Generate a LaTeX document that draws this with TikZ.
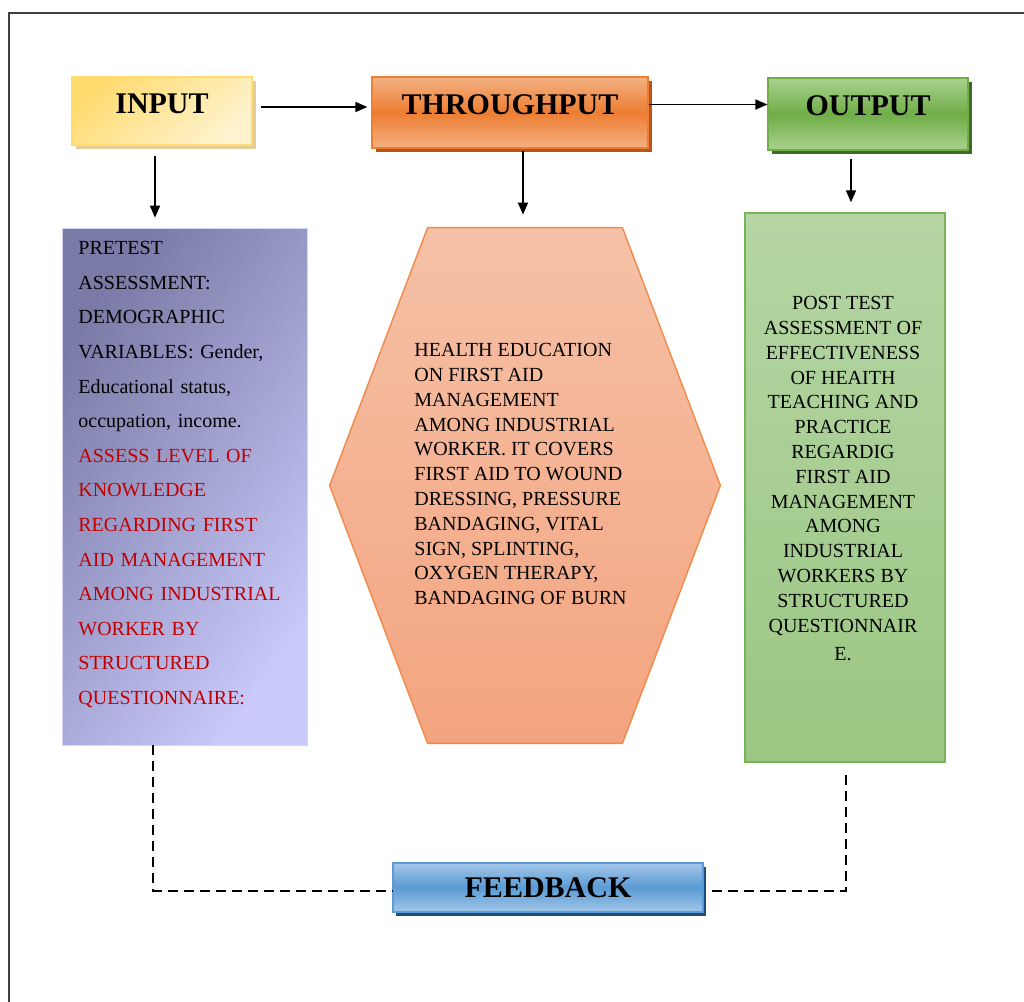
\documentclass[tikz,border=0pt]{standalone}
\usepackage{fontspec}
\setmainfont{Liberation Serif}
\usetikzlibrary{positioning,shadows,arrows.meta}

\definecolor{inlight}{HTML}{FFF3CF}
\definecolor{indark}{HTML}{FFDB70}
\definecolor{thlight}{HTML}{F4B183}
\definecolor{thdark}{HTML}{ED7D31}
\definecolor{thshadow}{HTML}{B8531A}
\definecolor{outlight}{HTML}{A9D18E}
\definecolor{outdark}{HTML}{70AD47}
\definecolor{outshadow}{HTML}{3F6B28}
\definecolor{fblight}{HTML}{A2C6E8}
\definecolor{fbdark}{HTML}{5B9BD5}
\definecolor{fbshadow}{HTML}{1F4E79}
\definecolor{slatedark}{HTML}{7A7AA6}
\definecolor{slatelight}{HTML}{C9C9FA}
\definecolor{hextop}{HTML}{F5C1A7}
\definecolor{hexbottom}{HTML}{F4A47F}
\definecolor{hexline}{HTML}{EF8A4A}
\definecolor{greentop}{HTML}{B5D6A4}
\definecolor{greenbottom}{HTML}{9BC683}
\definecolor{greenline}{HTML}{77B458}
\definecolor{assessred}{HTML}{C00000}

\tikzset{
  head/.style={draw, line width=0.6pt, inner sep=0pt,
    font=\fontsize{15}{18}\selectfont\bfseries},
  body/.style={inner sep=0pt, font=\fontsize{10}{12.4}\selectfont},
  flow/.style={-{Triangle[length=6pt,width=5pt]}, line width=0.8pt},
  fbline/.style={dash pattern=on 5pt off 3pt, line width=1pt},
}

\begin{document}
\begin{tikzpicture}[x=0.5pt, y=-0.5pt]
\useasboundingbox (0,0) rectangle (1024,1002);

% page frame
\draw[line width=1.2pt, black!75] (9,1002) -- (9,13) -- (1024,13);

% heading boxes
\node[head, text depth=7pt, draw=indark, minimum width=90pt, minimum height=34pt,
  left color=indark, right color=inlight, shading angle=40,
  drop shadow={shadow xshift=2pt, shadow yshift=-2pt, fill=black!20!indark!60, opacity=1}]
  (input) at (162,111) {INPUT};
\node[head, text depth=8pt, draw=thdark, minimum width=138pt, minimum height=35.5pt,
  top color=thlight, bottom color=thlight, middle color=thdark,
  drop shadow={shadow xshift=2pt, shadow yshift=-2pt, fill=thshadow, opacity=1}]
  (throughput) at (510,112.5) {THROUGHPUT};
\node[head, text depth=8pt, draw=outdark, minimum width=100pt, minimum height=36pt,
  top color=outlight, bottom color=outlight, middle color=outdark,
  drop shadow={shadow xshift=2pt, shadow yshift=-2pt, fill=outshadow, opacity=1}]
  (output) at (868,114) {OUTPUT};

% input box
\node[draw=slatelight!80!white, minimum width=122.5pt, minimum height=258.5pt,
  left color=slatedark, right color=slatelight, shading angle=55]
  (lbox) at (184.5,486.5) {};
\node[body, anchor=north west, align=left, text width=115pt,
  font=\fontsize{10}{17.3}\selectfont] (ltxt) at (78,241) {%
  PRETEST\\
  ASSESSMENT:\\
  DEMOGRAPHIC\\
  VARIABLES: Gender,\\
  Educational status,\\
  occupation, income.\\
  \textcolor{assessred}{ASSESS LEVEL OF}\\
  \textcolor{assessred}{KNOWLEDGE}\\
  \textcolor{assessred}{REGARDING FIRST}\\
  \textcolor{assessred}{AID MANAGEMENT}\\
  \textcolor{assessred}{AMONG INDUSTRIAL}\\
  \textcolor{assessred}{WORKER BY}\\
  \textcolor{assessred}{STRUCTURED}\\
  \textcolor{assessred}{QUESTIONNAIRE:}};

% throughput hexagon
\node[minimum width=195pt, minimum height=257.5pt, inner sep=0pt] (hexa) at (525,485.5) {};
\draw[hexline, line width=0.7pt, top color=hextop, bottom color=hexbottom]
  ([xshift=49pt]hexa.north west) -- ([xshift=-49pt]hexa.north east) -- (hexa.east)
  -- ([xshift=-49pt]hexa.south east) -- ([xshift=49pt]hexa.south west) -- (hexa.west) -- cycle;
\node[body, anchor=north west, align=left] (hextxt) at (414,343) {%
  HEALTH EDUCATION\\
  ON FIRST AID\\
  MANAGEMENT\\
  AMONG INDUSTRIAL\\
  WORKER. IT COVERS\\
  FIRST AID TO WOUND\\
  DRESSING, PRESSURE\\
  BANDAGING, VITAL\\
  SIGN, SPLINTING,\\
  OXYGEN THERAPY,\\
  BANDAGING OF BURN};

% output box
\node[draw=greenline, line width=0.7pt, minimum width=100pt, minimum height=274.5pt,
  top color=greentop, bottom color=greenbottom]
  (rbox) at (845,487.5) {};
\node[body, anchor=north, align=center] (rtxt) at (843,296) {%
  POST TEST\\
  ASSESSMENT OF\\
  EFFECTIVENESS\\
  OF HEAITH\\
  TEACHING AND\\
  PRACTICE\\
  REGARDIG\\
  FIRST AID\\
  MANAGEMENT\\
  AMONG\\
  INDUSTRIAL\\
  WORKERS BY\\
  STRUCTURED\\
  QUESTIONNAIR\\[2pt]
  E.};

% feedback box
\node[head, draw=fbdark, minimum width=155pt, minimum height=24.5pt,
  top color=fblight, bottom color=fblight, middle color=fbdark,
  drop shadow={shadow xshift=1.5pt, shadow yshift=-2pt, fill=fbshadow, opacity=1}]
  (fb) at (548,887.5) {FEEDBACK};

% arrows
\draw[flow, shorten <=4pt, shorten >=2pt] ([yshift=2pt]input.east) -- ([yshift=2pt]input.east -| throughput.west);
\draw[flow] ([yshift=4pt]throughput.east) -- ([yshift=4pt]throughput.east -| output.west);
\draw[flow, shorten <=5pt, shorten >=5pt] ([xshift=-3.5pt]input.south) -- ([xshift=-3.5pt]input.south |- lbox.north);
\draw[flow, shorten <=1pt, shorten >=6.5pt] ([xshift=6.5pt]throughput.south) -- ([xshift=6.5pt]throughput.south |- hexa.north);
\draw[flow, shorten <=4pt, shorten >=5pt] ([xshift=-8.5pt]output.south) -- ([xshift=-8.5pt]output.south |- rbox.north);

% feedback loop
\draw[fbline] ([xshift=-15.75pt]lbox.south) |- ([yshift=-1.5pt]fb.west);
\draw[fbline, shorten <=4pt, shorten >=5.5pt] ([yshift=-1.5pt]fb.east) -| ([xshift=0.5pt]rbox.south);

\end{tikzpicture}
\end{document}
